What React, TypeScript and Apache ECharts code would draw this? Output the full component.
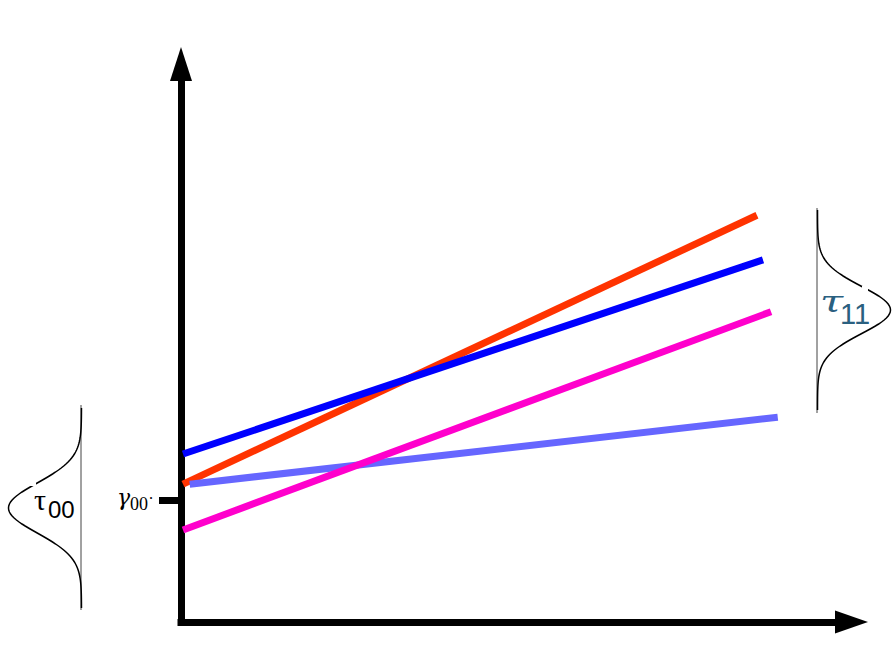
import React, { useEffect, useRef } from "react";
import * as echarts from "echarts";

// Schematic values (x from 0 to 10, y from 0 to 10)
const redLine: number[][] = [[0.03, 2.47], [8.59, 7.29]];
const blueLine: number[][] = [[0.03, 3.01], [8.68, 6.49]];
const lightBlueLine: number[][] = [[0.13, 2.47], [8.9, 3.67]];
const magentaLine: number[][] = [[0.03, 1.65], [8.8, 5.56]];
const gamma00Value = 2.19;

const seriesNames = ["red", "blue", "lightblue", "magenta"];
const seriesData = [redLine, blueLine, lightBlueLine, magentaLine];
const seriesColors = ["#ff3300", "#0000ff", "#6666ff", "#ff00cc"];

function bellPoints(cx: number, cy: number, amp: number, sigma: number, dir: number): number[][] {
  const pts: number[][] = [];
  for (let t = -100; t <= 100; t += 2) {
    pts.push([cx + dir * amp * Math.exp(-(t * t) / (2 * sigma * sigma)), cy + t]);
  }
  return pts;
}

export default function App() {
  const ref = useRef<HTMLDivElement>(null);
  useEffect(() => {
    if (!ref.current) return;
    const chart = echarts.init(ref.current, undefined, { renderer: "svg" });
    const axisLineStyle = { color: "#000", width: 7, cap: "square" as const };
    chart.setOption({
      animation: false,
      backgroundColor: "#fff",
      grid: { left: 181, right: 44.5, top: 64, bottom: 34, containLabel: false },
      xAxis: {
        type: "value",
        min: 0,
        max: 10,
        axisLine: { show: true, onZero: false, symbol: ["none", "triangle"], symbolSize: [23, 33], lineStyle: axisLineStyle },
        axisTick: { show: false },
        axisLabel: { show: false },
        splitLine: { show: false },
      },
      yAxis: {
        type: "value",
        min: 0,
        max: 10,
        axisLine: { show: true, onZero: false, symbol: ["none", "triangle"], symbolSize: [22, 34], lineStyle: axisLineStyle },
        axisTick: { show: true, length: 22, customValues: [gamma00Value], lineStyle: { color: "#000", width: 7 } },
        axisLabel: { show: false },
        splitLine: { show: false },
      },
      series: seriesNames.map((name, i) => ({
        name,
        type: "line",
        data: seriesData[i],
        showSymbol: false,
        symbol: "none",
        lineStyle: { color: seriesColors[i], width: 7, cap: "butt" },
        z: 3 + i,
      })),
      graphic: [
        // left bell curve
        { type: "line", shape: { x1: 81, y1: 405, x2: 81, y2: 610 }, style: { stroke: "#444", lineWidth: 1 } },
        { type: "polyline", shape: { points: bellPoints(81.5, 508, 73, 25, -1) }, style: { stroke: "#000", lineWidth: 1.5, fill: null } },
        { type: "rect", shape: { x: 30, y: 481, width: 6, height: 5 }, style: { fill: "#fff" }, z: 10 },
        // right bell curve
        { type: "line", shape: { x1: 817, y1: 208, x2: 817, y2: 413 }, style: { stroke: "#444", lineWidth: 1 } },
        { type: "polyline", shape: { points: bellPoints(817.5, 310, 73, 23.5, 1) }, style: { stroke: "#000", lineWidth: 1.5, fill: null } },
        { type: "rect", shape: { x: 862, y: 286, width: 6, height: 5 }, style: { fill: "#fff" }, z: 10 },
        // tau00 label
        { type: "text", x: 34, y: 499.5, z: 11, style: { text: "τ", font: '30px "Liberation Serif"', fill: "#000", align: "left", verticalAlign: "middle" } },
        { type: "text", x: 48, y: 509.6, z: 11, style: { text: "00", font: '24px "Liberation Sans"', fill: "#000", align: "left", verticalAlign: "middle" } },
        // tau11 label
        { type: "text", x: 820, y: 302, z: 11, scaleX: 1.4, style: { text: "τ", font: 'italic 30px "DejaVu Serif"', fill: "#2a6080", align: "left", verticalAlign: "middle" } },
        { type: "text", x: 840, y: 313.5, z: 11, style: { text: "11", font: '29px "Liberation Sans"', fill: "#2a6080", align: "left", verticalAlign: "middle" } },
        // gamma00 label
        { type: "text", x: 117, y: 497, z: 11, style: { text: "γ", font: 'italic 22px "DejaVu Serif"', fill: "#000", align: "left", verticalAlign: "middle" } },
        { type: "text", x: 130, y: 503.7, z: 11, style: { text: "00˙", font: '18px "Liberation Serif"', fill: "#000", align: "left", verticalAlign: "middle" } },
      ],
    });
    return () => chart.dispose();
  }, []);
  return <div ref={ref} style={{ width: 896, height: 656, position: "absolute", left: 0, top: 0 }} />;
}
